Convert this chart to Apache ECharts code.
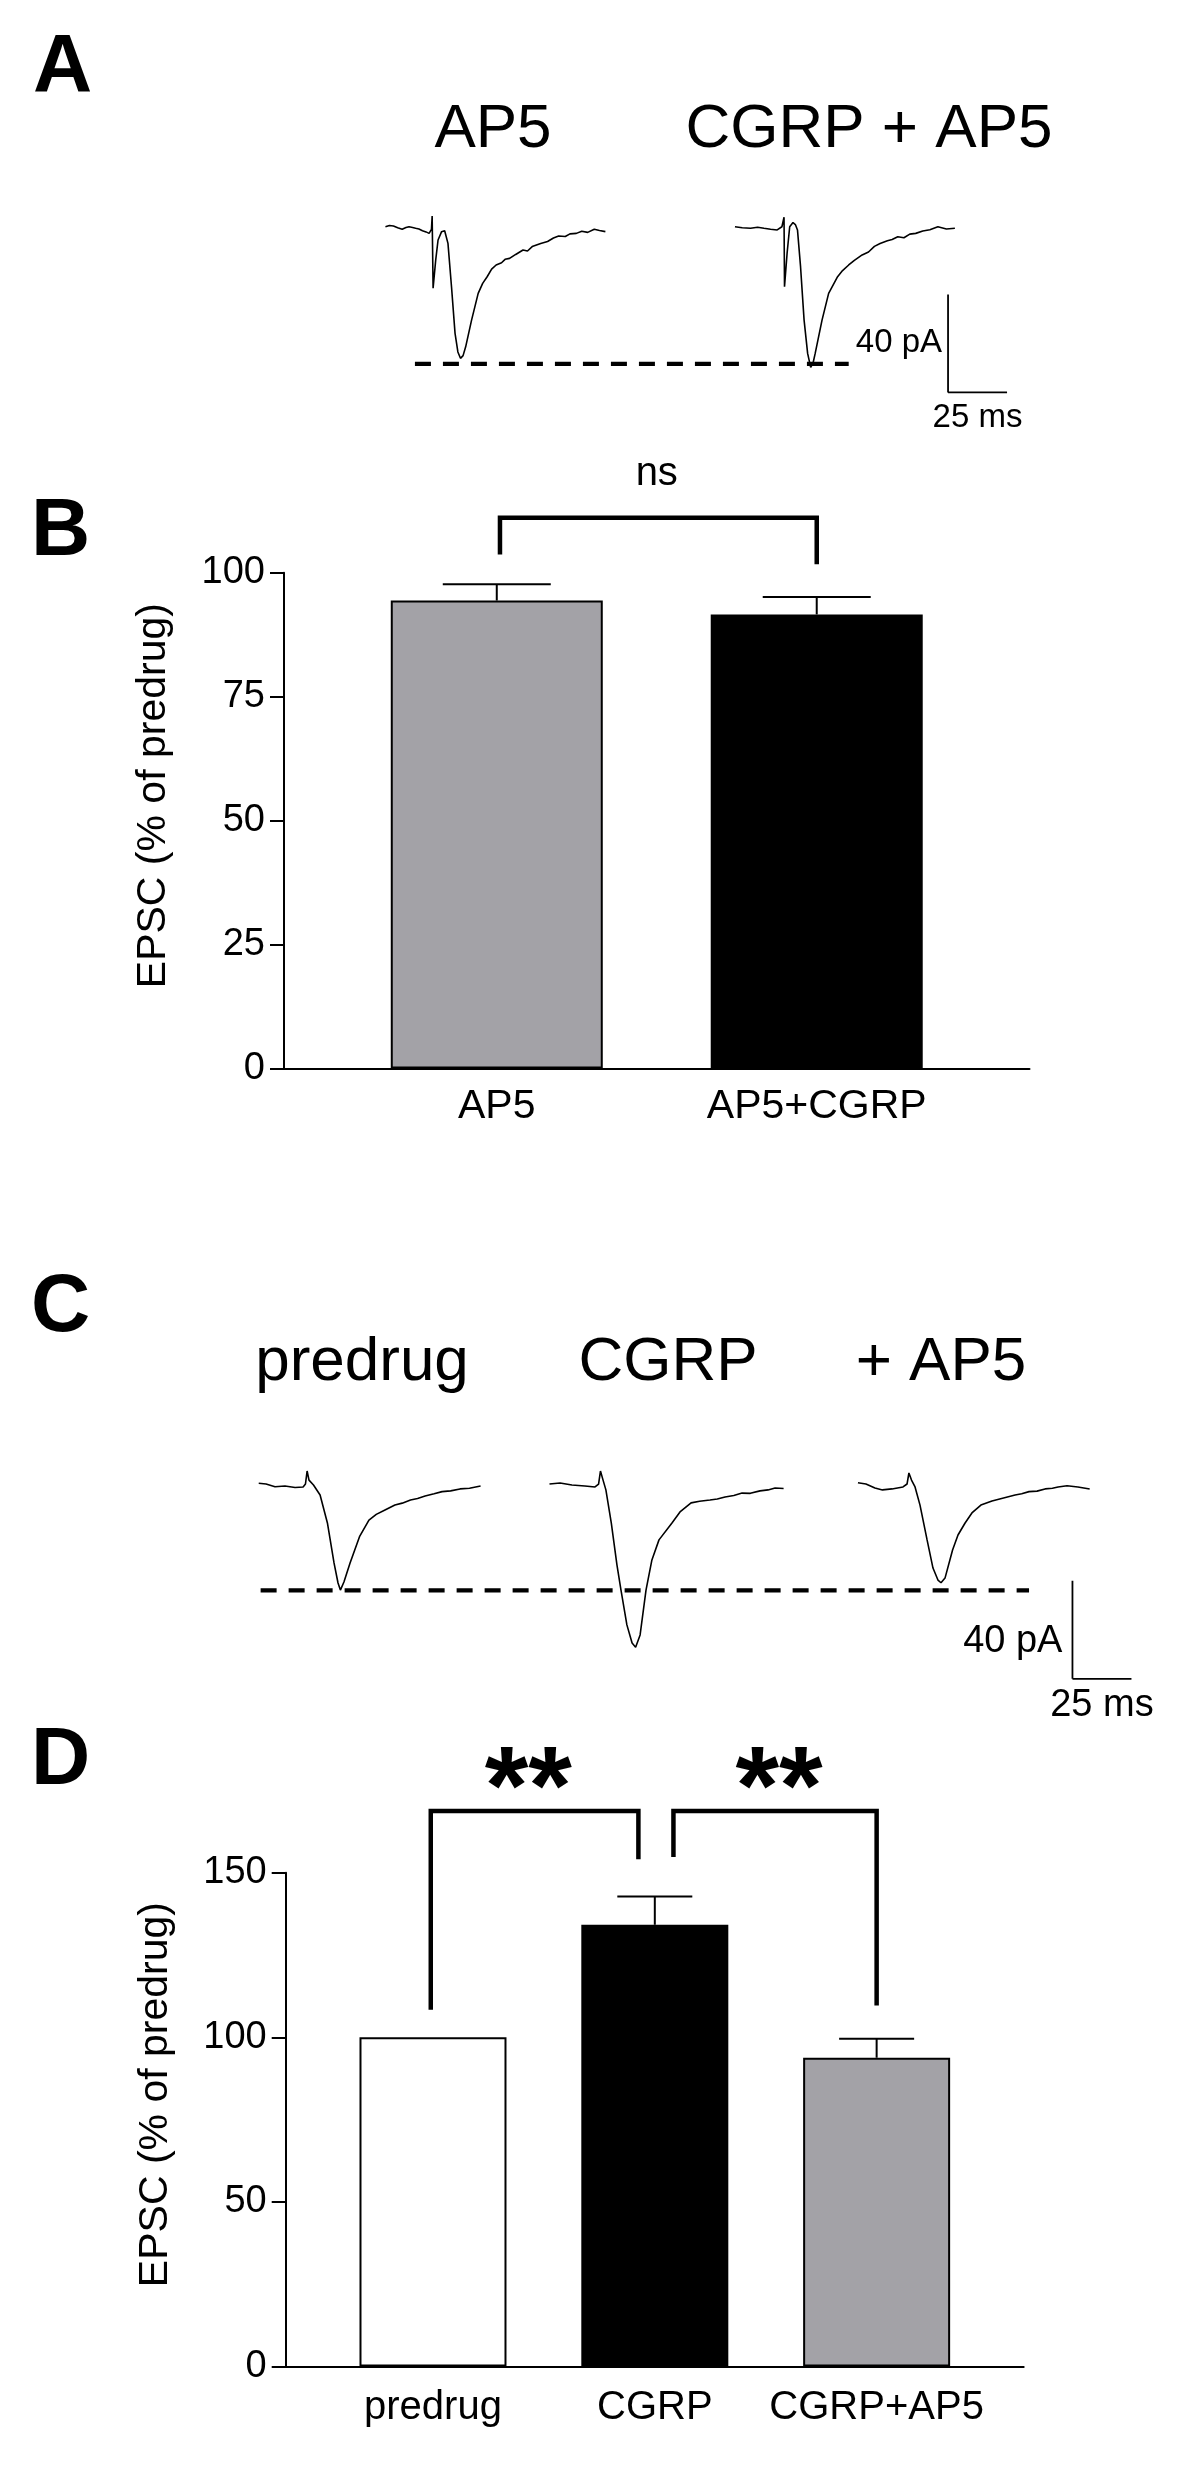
<!DOCTYPE html>
<html><head><meta charset="utf-8">
<script src="https://cdn.jsdelivr.net/npm/echarts@6/dist/echarts.min.js"></script>
<style>html,body{margin:0;padding:0;background:#fff}#c{width:1200px;height:2484px}</style>
</head><body><div id="c"></div>
<script>
const FONT = '"Liberation Sans", Arial, Helvetica, sans-serif';

// ---------- Panel A : example EPSC traces (time in ms, current in pA) ----------
const titlesA = ['AP5', 'CGRP + AP5'];
const traceA_AP5 = [[2.3,0.1],[4.0,0.6],[5.7,0.4],[7.5,-0.3],[9.4,-0.9],[11.0,-0.2],[12.3,0.1],[13.8,-0.2],[15.1,-0.5],[16.5,-0.8],[18.0,-1.5],[19.5,-2.0],[20.8,-2.6],[21.8,-1.0],[22.1,4.5],[22.5,-25.0],[23.6,-13.5],[24.6,-5.3],[26.1,-1.9],[27.4,-1.5],[28.8,-6.7],[30.3,-24.4],[31.8,-43.4],[33.0,-51.0],[34.1,-53.6],[35.2,-52.5],[36.3,-48.9],[38.8,-38.0],[41.6,-27.1],[43.5,-23.0],[45.4,-20.3],[47.3,-17.2],[49.2,-15.5],[51.5,-14.6],[53.0,-13.2],[54.9,-12.8],[57.5,-11.2],[60.6,-9.4],[62.5,-9.8],[64.5,-8.0],[68.1,-6.7],[71.0,-5.9],[73.5,-4.5],[75.7,-3.7],[78.5,-3.9],[80.5,-2.8],[83.2,-2.6],[85.5,-1.7],[88.0,-2.2],[90.8,-0.9],[93.0,-1.4],[95.5,-1.9]];
const traceA_CGRP_AP5 = [[150.4,0.1],[153.5,-0.3],[157.0,-0.5],[160.0,-0.1],[162.7,-0.5],[165.5,-0.9],[168.3,-1.2],[170.3,0.1],[171.2,4.0],[171.4,-24.4],[172.5,-10.7],[173.6,0.1],[175.0,1.8],[176.0,1.0],[176.9,-1.2],[178.2,-16.2],[179.7,-38.0],[181.2,-51.6],[182.5,-57.3],[183.5,-55.5],[184.4,-51.6],[187.3,-38.0],[190.1,-27.1],[193.9,-20.3],[196.0,-17.8],[198.6,-15.5],[201.0,-13.6],[204.3,-11.4],[207.0,-10.2],[209.5,-7.9],[211.9,-6.7],[215.0,-5.6],[217.0,-5.1],[219.4,-4.0],[222.0,-4.4],[224.5,-2.9],[227.0,-2.6],[230.0,-1.6],[233.0,-1.1],[236.4,0.1],[240.0,-0.8],[243.6,-0.5]];
const peakLineA = [[14.8,-55.9],[198.6,-55.9]];
const scaleA_pA = [[240.7,-27.5],[240.7,-47.5],[240.7,-67.5]];
const scaleA_ms = [[240.7,-67.5],[253.2,-67.5],[265.7,-67.5]];

// ---------- Panel B ----------
const catsB = ['AP5', 'AP5+CGRP'];
const meanB = [94.4, 91.6];
const semTopB = [97.7, 95.1];
const ticksB = [0, 25, 50, 75, 100];
const bracketB = [[1.01,103.7],[1.01,111.1],[1.5,111.1],[2.0,111.1],[2.0,101.7]];
const sigB = 'ns';

// ---------- Panel C ----------
const titlesC = ['predrug', 'CGRP', '+ AP5'];
const traceC_pre = [[3.7,0.7],[6.8,0.4],[10.6,-0.7],[14.8,-0.4],[19.1,-1.0],[22.5,-0.8],[23.5,0.4],[24.2,5.7],[25.0,2.0],[26.9,0.0],[29.7,-4.1],[32.8,-15.5],[35.6,-31.8],[37.3,-40.0],[38.3,-42.9],[39.8,-39.6],[42.4,-31.8],[46.4,-21.1],[50.4,-14.3],[53.5,-12.0],[57.2,-10.2],[61.4,-8.2],[64.5,-7.4],[68.0,-6.1],[71.0,-5.5],[74.2,-4.5],[78.0,-3.6],[81.4,-2.7],[85.0,-2.4],[89.0,-1.6],[93.0,-1.3],[97.7,-0.4]];
const traceC_cgrp = [[126.9,0.4],[131.4,0.8],[136.4,0.0],[141.9,-0.4],[146.2,-0.8],[147.7,0.4],[148.5,5.7],[149.6,2.0],[150.8,-2.0],[153.1,-15.6],[155.5,-32.7],[157.2,-42.9],[159.7,-57.1],[161.9,-64.5],[163.4,-66.2],[165.3,-61.2],[167.8,-42.9],[170.3,-30.6],[173.3,-22.4],[178.8,-15.5],[182.2,-11.0],[186.9,-7.3],[190.5,-6.6],[194.9,-6.1],[198.0,-5.7],[201.3,-4.9],[205.0,-4.3],[208.5,-3.3],[212.0,-3.4],[216.1,-2.4],[219.5,-2.0],[222.5,-1.2],[226.1,-1.4]];
const traceC_ap5 = [[257.6,0.9],[261.0,0.4],[264.8,-1.2],[268.0,-2.0],[272.0,-1.6],[276.7,-0.8],[278.4,0.4],[279.2,4.9],[280.3,2.0],[281.8,-0.8],[283.9,-8.2],[286.9,-22.4],[289.4,-33.9],[291.5,-38.8],[292.8,-39.9],[294.5,-38.0],[297.7,-26.5],[300.0,-20.4],[303.0,-15.5],[305.9,-11.4],[309.7,-8.2],[314.4,-6.5],[319.3,-5.3],[324.2,-4.1],[327.0,-3.6],[330.1,-2.7],[333.5,-2.5],[336.9,-1.6],[340.0,-1.3],[342.4,-0.8],[346.2,-0.3],[350.8,-0.8],[355.8,-1.6]];
const peakLineC = [[4.5,-43.0],[330.1,-43.0]];
const scaleC_pA = [[348.5,-39.1],[348.5,-59.1],[348.5,-79.1]];
const scaleC_ms = [[348.5,-79.1],[361.0,-79.1],[373.5,-79.1]];

// ---------- Panel D ----------
const catsD = ['predrug', 'CGRP', 'CGRP+AP5'];
const meanD = [100, 134.2, 93.8];
const semTopD = [null, 142.8, 99.6];
const ticksD = [0, 50, 100, 150];
const bracketD1 = [[0.99,108.4],[0.99,168.8],[1.43,168.8],[1.926,168.8],[1.926,154.1]];
const bracketD2 = [[2.084,154.8],[2.084,168.8],[2.56,168.8],[3.0,168.8],[3.0,109.7]];
const sigD = ['**', '**'];

const yTitle = 'EPSC (% of predrug)';
const GRAY = '#a3a2a7';
const barColorsB = [GRAY, '#000000'];
const barColorsD = ['#ffffff', '#000000', GRAY];

// ---------- helpers ----------
function traceSeries(data, xi) {
  return {type:'line', xAxisIndex:xi, yAxisIndex:xi, data, symbol:'none', clip:false,
    lineStyle:{color:'#000', width:1.6}, z:3, silent:true};
}
function dashSeries(data, xi) {
  return {type:'line', xAxisIndex:xi, yAxisIndex:xi, data, symbol:'none', clip:false,
    lineStyle:{color:'#000', width:4.3, type:[16,12], cap:'butt'}, z:2, silent:true};
}
function scaleSeries(data, xi, text, pos, fs, dist, off) {
  return {type:'line', xAxisIndex:xi, yAxisIndex:xi, clip:false, symbol:'circle', symbolSize:0, showSymbol:true,
    lineStyle:{color:'#000', width:1.8}, silent:true,
    data: data.map((d,i)=> i===1 ? {value:d, label:{show:true, formatter:text, position:pos, distance:dist, offset:off||[0,0],
      fontSize:fs, fontFamily:FONT, color:'#000'}} : {value:d})};
}
function bracketSeries(data, xi, text, fs, bold, dist, lh) {
  return {type:'line', xAxisIndex:xi, yAxisIndex:xi, clip:false, symbol:'circle', symbolSize:0, showSymbol:true,
    lineStyle:{color:'#000', width:4.5, join:'miter', cap:'butt'}, silent:true, z:4,
    data: data.map((d,i)=> i===2 ? {value:d, label:{show:true, formatter:text, position:'top', distance:dist,
      fontSize:fs, fontWeight: bold ? 'bold':'normal', fontFamily:FONT, color:'#000', lineHeight:lh}} : {value:d})};
}
function errSeries(x, top, mean, xi, half) {
  const data = [];
  x.forEach((xx,i)=>{ if (top[i]!=null) data.push([xx, mean[i], top[i]]); });
  return {type:'custom', xAxisIndex:xi, yAxisIndex:xi, data, z:5, clip:false, silent:true,
    encode:{x:0, y:[1,2]},
    renderItem:(params, api)=>{
      const p0 = api.coord([api.value(0), api.value(1)]);
      const p1 = api.coord([api.value(0), api.value(2)]);
      return {type:'group', children:[
        {type:'line', shape:{x1:p0[0], y1:p0[1], x2:p1[0], y2:p1[1]}, style:{stroke:'#000', lineWidth:2}},
        {type:'line', shape:{x1:p1[0]-half, y1:p1[1], x2:p1[0]+half, y2:p1[1]}, style:{stroke:'#000', lineWidth:2}}
      ]};
    }};
}
function hiddenAxis(gi, min, max) {
  return {type:'value', gridIndex:gi, min, max, show:false, splitLine:{show:false}};
}
function barYAxis(gi, max, interval) {
  return {type:'value', gridIndex:gi, min:0, max, interval,
    axisLine:{show:true, onZero:false, lineStyle:{color:'#000', width:2}},
    axisTick:{show:true, length:14, lineStyle:{color:'#000', width:2}},
    axisLabel:{fontSize:38, fontFamily:FONT, color:'#000', margin:19},
    splitLine:{show:false},
    name: yTitle, nameLocation:'middle', nameRotate:90, nameGap:110,
    nameTextStyle:{fontSize:41, fontFamily:FONT, color:'#000', lineHeight:41, padding:[0,0,0,50]}};
}
function barXAxis(gi, min, max, cats, fs, margin) {
  const vals = cats.map((c,i)=>i+1);
  return {type:'value', gridIndex:gi, min, max,
    axisLine:{show:true, onZero:false, lineStyle:{color:'#000', width:2}},
    axisTick:{show:false, customValues: vals},
    axisLabel:{show:true, customValues: vals, formatter:(v)=>cats[Math.round(v)-1] || '',
      fontSize:fs, fontFamily:FONT, color:'#000', margin},
    splitLine:{show:false}};
}
function barSeries(xi, means, colors, width) {
  return {type:'bar', xAxisIndex:xi, yAxisIndex:xi, barWidth:width, z:2, silent:true,
    data: means.map((m,i)=>({value:[i+1, m], itemStyle:{color:colors[i], borderColor:'#000', borderWidth:2}}))};
}
function txt(text, x, y, fs, bold, align) {
  return {type:'text', silent:true, style:{text, x, y, fill:'#000', align:align||'center', verticalAlign:'middle',
    font:(bold?'bold ':'') + fs + 'px ' + FONT}};
}

const chart = echarts.init(document.getElementById('c'), null, {renderer:'canvas', width:1200, height:2484});
chart.setOption({
  backgroundColor:'#ffffff',
  animation:false,
  grid:[
    {left:380, top:202.5, width:660.8, height:196, outerBoundsMode:'none'},
    {left:284, top:572.8, width:745.5, height:495.7, outerBoundsMode:'none'},
    {left:250, top:1460.5, width:896.8, height:245, outerBoundsMode:'none'},
    {left:285.7, top:1872.8, width:738, height:493.6, outerBoundsMode:'none'}
  ],
  xAxis:[
    hiddenAxis(0, 0, 280),
    barXAxis(1, 0.335, 2.665, catsB, 41, 18),
    hiddenAxis(2, 0, 380),
    barXAxis(3, 0.336, 3.663, catsD, 40, 22)
  ],
  yAxis:[
    hiddenAxis(0, -70, 10),
    barYAxis(1, 100, 25),
    hiddenAxis(2, -90, 10),
    barYAxis(3, 150, 50)
  ],
  series:[
    traceSeries(traceA_AP5, 0),
    traceSeries(traceA_CGRP_AP5, 0),
    dashSeries(peakLineA, 0),
    scaleSeries(scaleA_pA, 0, '40 pA', 'left', 33, 6),
    scaleSeries(scaleA_ms, 0, '25 ms', 'bottom', 33, 9),

    barSeries(1, meanB, barColorsB, 212),
    errSeries([1,2], semTopB, meanB, 1, 54),
    bracketSeries(bracketB, 1, sigB, 40, false, 24, 40),

    traceSeries(traceC_pre, 2),
    traceSeries(traceC_cgrp, 2),
    traceSeries(traceC_ap5, 2),
    dashSeries(peakLineC, 2),
    scaleSeries(scaleC_pA, 2, '40 pA', 'left', 38, 10, [0,12]),
    scaleSeries(scaleC_ms, 2, '25 ms', 'bottom', 38, 8),

    barSeries(3, meanD, barColorsD, 147),
    errSeries([1,2,3], semTopD, meanD, 3, 37.5),
    bracketSeries(bracketD1, 3, sigD[0], 112, true, -2, 40),
    bracketSeries(bracketD2, 3, sigD[1], 112, true, -2, 40)
  ],
  graphic:[
    txt('A', 33, 68.6, 82, true, 'left'),
    txt('B', 31, 532.6, 82, true, 'left'),
    txt('C', 31, 1308, 82, true, 'left'),
    txt('D', 31, 1761.6, 82, true, 'left'),
    txt(titlesA[0], 493, 129.5, 62),
    txt(titlesA[1], 869, 129.5, 62),
    txt(titlesC[0], 362, 1362.5, 62),
    txt(titlesC[1], 668, 1362.5, 62),
    txt(titlesC[2], 941, 1362.5, 62)
  ]
});
</script></body></html>
